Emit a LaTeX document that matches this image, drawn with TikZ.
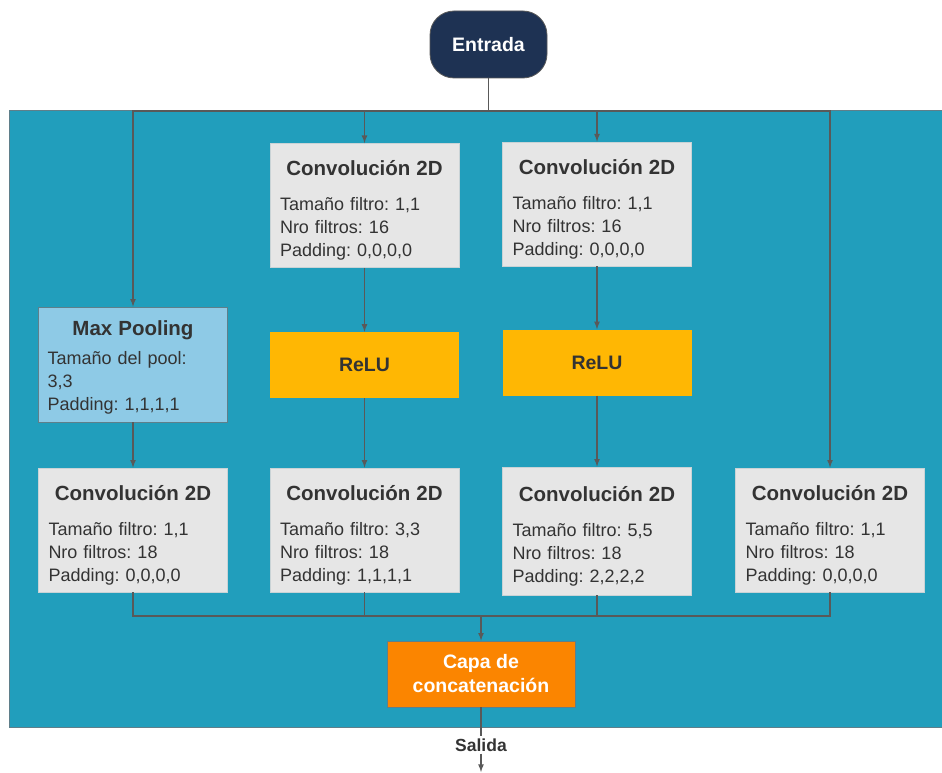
\documentclass[tikz,border=0pt]{standalone}
\usepackage{fontspec}
\setmainfont{Liberation Sans}
\usepackage{xcolor}
\usetikzlibrary{arrows,positioning,calc}
\definecolor{fondo}{HTML}{219EBC}
\definecolor{bordefondo}{HTML}{5F7F8A}
\definecolor{azuloscuro}{HTML}{1E3253}
\definecolor{grisclaro}{HTML}{E6E6E6}
\definecolor{grisborde}{HTML}{C9D3D6}
\definecolor{celeste}{HTML}{8ECAE6}
\definecolor{amarillo}{HTML}{FFB703}
\definecolor{naranja}{HTML}{FB8500}
\definecolor{lineagris}{HTML}{595959}
\definecolor{texto}{HTML}{333333}
\frenchspacing
\newcommand{\titulo}[3]{\makebox[#1]{\fontsize{20.5}{22}\selectfont\bfseries\rule{0pt}{#2}#3}}

\begin{document}
\begin{tikzpicture}[x=1pt,y=-1pt,
		linea/.style={draw=lineagris,line width=1.6pt},
		flecha/.style={linea,-latex},
		capa/.style={rectangle,draw=grisborde,line width=0.8pt,fill=grisclaro,text=texto,
			text width=169pt,inner xsep=10pt,inner ysep=0pt,minimum height=124pt,align=left,
			font=\fontsize{18}{23}\selectfont},
		pool/.style={capa,fill=celeste,draw=bordefondo,minimum height=115pt,text width=171pt,inner xsep=9pt},
		relu/.style={rectangle,fill=amarillo,text=texto,minimum width=189pt,minimum height=66pt,
			font=\fontsize{19.5}{22}\selectfont\bfseries},
		concat/.style={rectangle,draw=bordefondo,line width=0.8pt,fill=naranja,text=white,
			minimum width=188pt,minimum height=66pt,align=center,
			font=\fontsize{19.5}{24}\selectfont\bfseries},
		entrada/.style={rectangle,rounded corners=24pt,draw=lineagris,line width=0.8pt,fill=azuloscuro,
			text=white,minimum width=117pt,minimum height=67pt,font=\fontsize{19.5}{22}\selectfont\bfseries}]
		\useasboundingbox (0,0) rectangle (942,773);
		% fondo del bloque inception
		\draw[bordefondo,fill=fondo,line width=1pt] (9,111) rectangle (950,727);
		\node[entrada] (ent) at (488.5,44.5) {Entrada};
		% columna 1
		\node[pool] (mp) at (133,364.5) {\titulo{171pt}{21pt}{Max Pooling}\\[6pt]
			Tamaño del pool:\\ 3,3\\ Padding: 1,1,1,1};
		\node[capa] (c1) at (133,530) {\titulo{169pt}{25pt}{Convolución 2D}\\[12pt]
			Tamaño filtro: 1,1\\ Nro filtros: 18\\ Padding: 0,0,0,0};
		% columna 2
		\node[capa] (c2a) at (364.5,205.5) {\titulo{169pt}{25pt}{Convolución 2D}\\[12pt]
			Tamaño filtro: 1,1\\ Nro filtros: 16\\ Padding: 0,0,0,0};
		\node[relu] (r2) at (364.5,365) {ReLU};
		\node[capa] (c2b) at (364.5,530) {\titulo{169pt}{25pt}{Convolución 2D}\\[12pt]
			Tamaño filtro: 3,3\\ Nro filtros: 18\\ Padding: 1,1,1,1};
		% columna 3
		\node[capa] (c3a) at (597,204) {\titulo{169pt}{25pt}{Convolución 2D}\\[12pt]
			Tamaño filtro: 1,1\\ Nro filtros: 16\\ Padding: 0,0,0,0};
		\node[relu] (r3) at (597,362.5) {ReLU};
		\node[capa,minimum height=128pt] (c3b) at (597,531) {\titulo{169pt}{25pt}{Convolución 2D}\\[12pt]
			Tamaño filtro: 5,5\\ Nro filtros: 18\\ Padding: 2,2,2,2};
		% columna 4
		\node[capa] (c4) at (830,530) {\titulo{169pt}{25pt}{Convolución 2D}\\[12pt]
			Tamaño filtro: 1,1\\ Nro filtros: 18\\ Padding: 0,0,0,0};
		% salida
		\node[concat] (cat) at (481,674) {Capa de\\ concatenación};
		\node[text=texto,font=\fontsize{17.5}{20}\selectfont\bfseries,inner sep=2pt] (sal) at (481,745) {Salida};
		\coordinate (busarriba) at (488.5,111);
		\coordinate (busabajo) at (481,616);
		\coordinate (fin) at (481,772);
		% conexiones
		\draw[linea] (ent.south) -- (busarriba);
		\draw[flecha] (busarriba) -| (mp.north);
		\draw[flecha] (busarriba) -| (c2a.north);
		\draw[flecha] (busarriba) -| (c3a.north);
		\draw[flecha] (busarriba) -| (c4.north);
		\draw[flecha] (mp.south) -- (c1.north);
		\draw[flecha] (c2a.south) -- (r2.north);
		\draw[flecha] (r2.south) -- (c2b.north);
		\draw[flecha] (c3a.south) -- (r3.north);
		\draw[flecha] (r3.south) -- (c3b.north);
		\draw[linea] (c1.south) |- (busabajo);
		\draw[linea] (c2b.south) |- (busabajo);
		\draw[linea] (c3b.south) |- (busabajo);
		\draw[linea] (c4.south) |- (busabajo);
		\draw[flecha] (busabajo) -- (cat.north);
		\draw[linea] (cat.south) -- (sal.north);
		\draw[flecha] (sal.south) -- (fin);
	\end{tikzpicture}
\end{document}
